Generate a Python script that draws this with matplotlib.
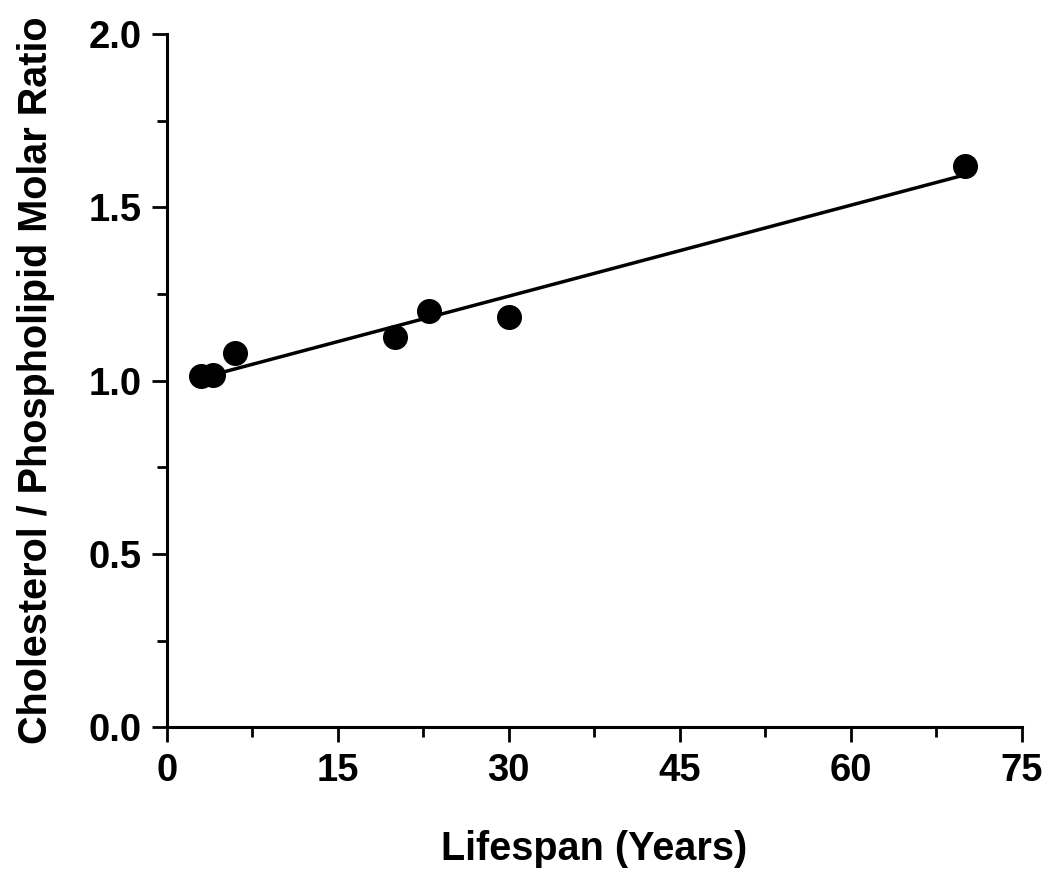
import numpy as np
import matplotlib
matplotlib.use("Agg")
import matplotlib.pyplot as plt
from matplotlib.ticker import MultipleLocator

lifespan = [3, 4, 6, 20, 23, 30, 70]
ratio = [1.013, 1.016, 1.079, 1.125, 1.200, 1.183, 1.619]
x_ticks = [0, 15, 30, 45, 60, 75]
y_ticks = [0.0, 0.5, 1.0, 1.5, 2.0]
x_label = "Lifespan (Years)"
y_label = "Cholesterol / Phospholipid Molar Ratio"

plt.rcParams['font.family'] = ['Liberation Sans', 'DejaVu Sans']
plt.rcParams['font.weight'] = 'bold'

fig = plt.figure(figsize=(10.5, 8.75), dpi=100)
ax = fig.add_axes([0.159, 0.169, 0.814, 0.792])

ax.plot(lifespan, ratio, 'o', color='black', markersize=17, zorder=3)
coef = np.polyfit(lifespan, ratio, 1)
fx = np.array([min(lifespan), max(lifespan)])
ax.plot(fx, np.polyval(coef, fx), '-', color='black', linewidth=2.5, zorder=2)

ax.set_xlim(0, 75)
ax.set_ylim(0, 2.0)
ax.set_xticks(x_ticks)
ax.set_yticks(y_ticks)
ax.set_xticklabels([str(t) for t in x_ticks])
ax.set_yticklabels([f"{t:.1f}" for t in y_ticks])
ax.xaxis.set_minor_locator(MultipleLocator(7.5))
ax.yaxis.set_minor_locator(MultipleLocator(0.25))

for s in ['top', 'right']:
    ax.spines[s].set_visible(False)
for s in ['left', 'bottom']:
    ax.spines[s].set_linewidth(2.2)
    ax.spines[s].set_color('black')

ax.tick_params(which='major', direction='out', length=10.5, width=2.0, labelsize=27.5, pad=8)
ax.tick_params(which='minor', direction='out', length=7, width=2.0)
ax.tick_params(axis='y', which='major', pad=8)
for lab in ax.get_xticklabels() + ax.get_yticklabels():
    lab.set_fontweight('bold')

ax.set_xlabel(x_label, fontsize=28.5, fontweight='bold', labelpad=30)
ax.set_ylabel(y_label, fontsize=28.5, fontweight='bold', labelpad=24)

fig.savefig("out.png", dpi=100, facecolor='white')
